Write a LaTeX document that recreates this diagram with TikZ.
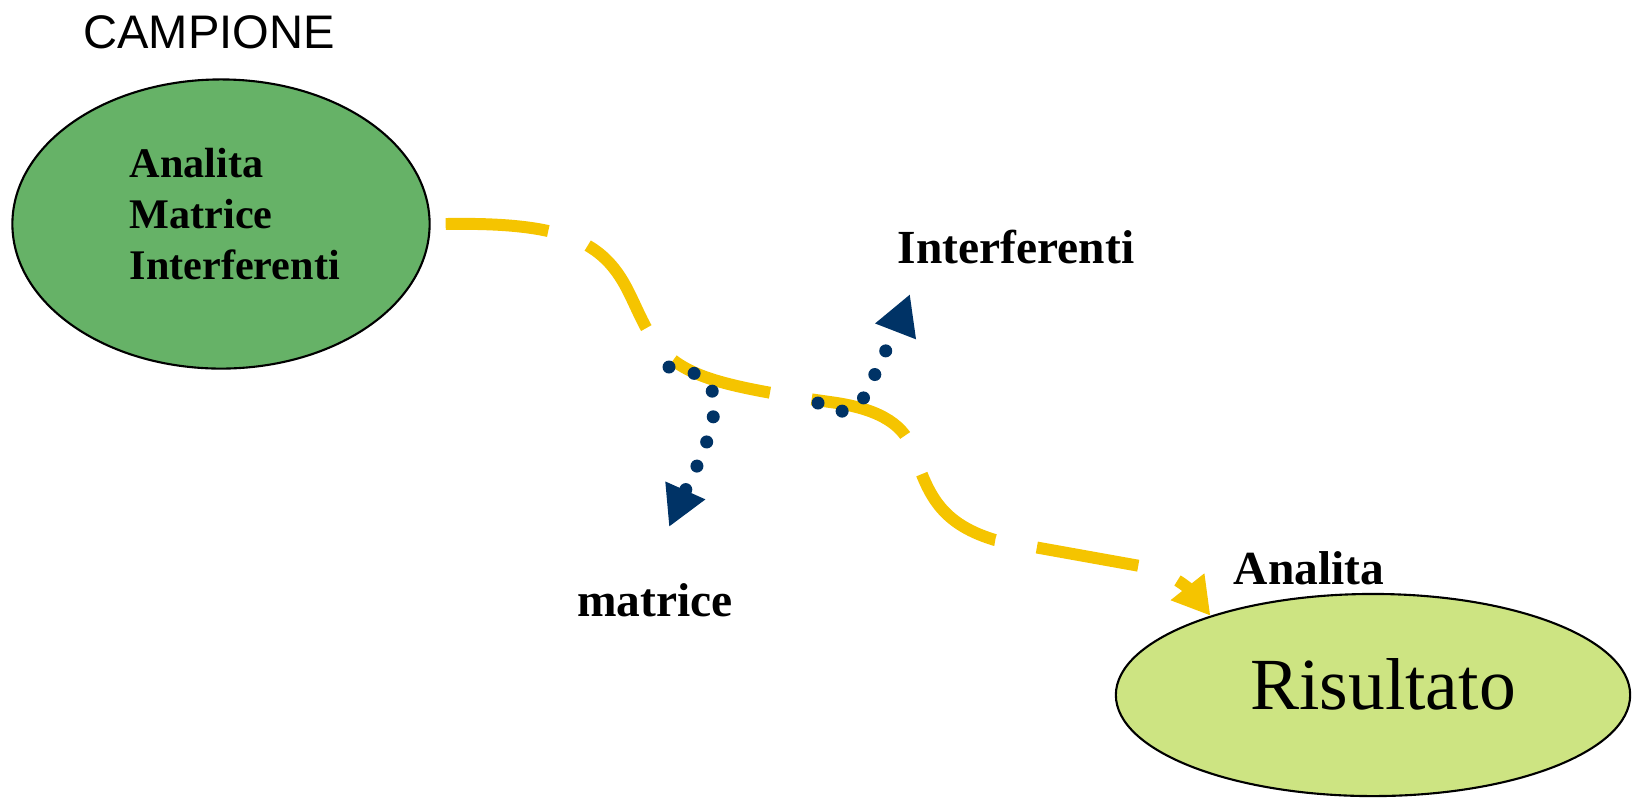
\documentclass[tikz,border=0pt]{standalone}
\usepackage{fontspec}
\setmainfont{Liberation Serif}
\newfontfamily\arialfont{Liberation Sans}
\usetikzlibrary{positioning,
        shapes.geometric,
        arrows.meta}
\definecolor{verdecamp}{RGB}{102,178,103}
\definecolor{verderis}{RGB}{205,228,130}
\definecolor{giallo}{RGB}{245,196,0}
\definecolor{blunotte}{RGB}{0,51,102}

\tikzset{
    campbox/.style={ellipse,draw,line width=0.6pt,inner sep=0pt},
    etichetta/.style={inner sep=0pt,anchor=base,font=\fontsize{13.5pt}{16pt}\selectfont\bfseries},
    flusso/.style={draw=giallo,line width=3.4pt,dash pattern=on 29.3pt off 12pt,
        -{Triangle[length=10.5pt,width=11.5pt]}},
    perdita/.style={draw=blunotte,line width=3.7pt,line cap=round,dash pattern=on 0pt off 7.4pt,
        -{Triangle[length=11.4pt,width=11.6pt]}}
}

\begin{document}
\begin{tikzpicture}[x=0.01cm,y=-0.01cm]
            \useasboundingbox (0,0) rectangle (1637,799);
            \node [campbox,fill=verdecamp,minimum width=4.17cm,minimum height=2.89cm] (campione) at (221,224) {};
            \node [inner sep=0pt,anchor=base west,align=left,font=\fontsize{12pt}{14.5pt}\selectfont\bfseries] (elenco) at (129,279) {Analita\\Matrice\\Interferenti};
            \node [inner sep=0pt,anchor=base,font=\fontsize{13.4pt}{16pt}\selectfont\arialfont] (titolo) at (209,48) {CAMPIONE};
            \node [campbox,fill=verderis,minimum width=5.14cm,minimum height=2.02cm] (risultato) at (1373,695) {};
            \node [inner sep=0pt,anchor=base,font=\fontsize{20.9pt}{24pt}\selectfont] (esito) at (1383,709) {Risultato};
            \node [etichetta] (analita) at (1309,584) {Analita};
            \node [etichetta] (interf) at (1016,263) {Interferenti};
            \node [etichetta] (matrice) at (655,616) {matrice};

            \coordinate (versomatrice) at (669,527);
            \coordinate (versointerf) at (910,294);

            % percorso del campione
            \draw [flusso] ([xshift=0.15cm]campione.east) .. controls (560,222) and (600,240) .. (625,285)
                .. controls (645,322) and (650,355) .. (700,375)
                .. controls (730,387) and (780,395) .. (830,402)
                .. controls (875,408) and (902,422) .. (912,448)
                .. controls (927,488) and (935,522) .. (995,540)
                -- (1140,566) .. controls (1170,571) and (1190,590) .. (risultato.154);
            % perdite
            \draw [perdita] (669,367) .. controls (700,370) and (718,385) .. (714,410)
                .. controls (712,440) and (690,480) .. (versomatrice);
            \draw [perdita] (818,403) .. controls (838,418) and (858,412) .. (868,390)
                .. controls (880,362) and (898,325) .. (versointerf);
\end{tikzpicture}
\end{document}
